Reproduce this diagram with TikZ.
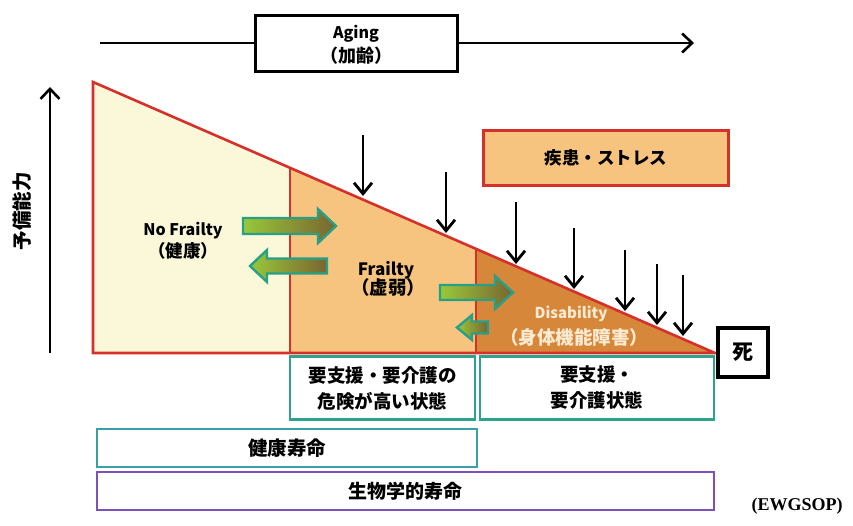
\documentclass[tikz,border=0pt]{standalone}
\usepackage{fontspec}
\setmainfont{Noto Sans CJK JP}
\newfontfamily\serifx{Liberation Serif}
\usetikzlibrary{arrows.meta}
\definecolor{nofr}{HTML}{FBF7D9}
\definecolor{frc}{HTML}{F6C47E}
\definecolor{disc}{HTML}{D7873A}
\definecolor{redl}{HTML}{D6302A}
\definecolor{tealb}{HTML}{2BA38D}
\definecolor{tealc}{HTML}{3A9EA6}
\definecolor{purp}{HTML}{7D52B8}
\definecolor{gA}{HTML}{98C83A}
\definecolor{gB}{HTML}{7A6430}
\definecolor{gline}{HTML}{26A089}
\definecolor{distext}{HTML}{FBEBD3}
\newcommand{\fs}[1]{\bfseries\fontsize{#1}{#1}\selectfont}
\begin{document}
\begin{tikzpicture}[x=1pt,y=-1pt,
  redline/.style={draw=redl,line width=2.6pt,line join=miter},
  blackarr/.style={draw=black,line width=2.6pt,-{Straight Barb[length=10pt,width=19pt,line width=2.6pt]}},
  downarr/.style={draw=black,line width=2.8pt,-{Straight Barb[length=11pt,width=18pt,line width=2.8pt]}},
  lbl/.style={inner sep=0},
  jpbox/.style={line width=2.6pt,fill=white,inner sep=0,align=center,font=\bfseries\fontsize{18.5}{26}\selectfont},
  garrow/.style={left color=gA,right color=gB,draw=gline,line width=2.4pt,line join=miter}
]
\useasboundingbox (0,0) rectangle (853,525);

% Aging arrow
\node[draw=black,line width=3pt,minimum width=202pt,minimum height=56pt,fill=white] (aging) at (356,43) {};
\node[lbl,font=\fs{16}] (agingE) at (356,34) {Aging};
\node[lbl,font=\fs{18}] (agingJ) at (356,56) {（加齢）};
\coordinate (agL) at (100,43);
\coordinate (agR) at (694,43);
\draw[line width=2.6pt] (agL) -- (aging.west);
\draw[blackarr] (aging.east) -- (agR);

% vertical arrow
\coordinate (vB) at (50,353);
\coordinate (vT) at (50,87);
\draw[blackarr] (vB) -- (vT);
\node[rotate=90,font=\fs{19.5},inner sep=0] (reserve) at (22,211) {予備能力};

% triangle regions
\coordinate (A) at (93,82);
\coordinate (B) at (290,167.8);
\coordinate (C) at (476,248.9);
\coordinate (D) at (715,353);
\coordinate (B0) at (290,353);
\coordinate (C0) at (476,353);
\coordinate (A0) at (93,353);
\fill[nofr] (A) -- (B) -- (B0) -- (A0) -- cycle;
\fill[frc] (B) -- (C) -- (C0) -- (B0) -- cycle;
\fill[disc] (C) -- (D) -- (C0) -- cycle;
\draw[redline] (A) -- (D) -- (A0) -- cycle;
\draw[redline] (B) -- (B0);
\draw[redline] (C) -- (C0);

% labels
\node[lbl,font=\fs{16}] (nofrail) at (183,231) {No Frailty};
\node[lbl,font=\fs{17.5}] (nofrailJ) at (183,251) {（健康）};
\node[lbl,font=\fs{17}] (frail) at (386,270) {Frailty};
\node[lbl,font=\fs{18.5}] (frailJ) at (388,287) {（虚弱）};
\node[lbl,font=\fs{15},text=distext] (disab) at (571,314) {Disability};
\node[lbl,font=\fs{18.5},text=distext] (disabJ) at (574,337) {（身体機能障害）};

% green block arrows
\path[garrow] (243,218) -- (318,218) -- (318,209) -- (336,226) -- (318,243) -- (318,234) -- (243,234) -- cycle;
\path[garrow] (327,258.5) -- (267,258.5) -- (267,250) -- (250,266) -- (267,282) -- (267,273.5) -- (327,273.5) -- cycle;
\path[garrow] (440,285) -- (495,285) -- (495,276) -- (513,292.5) -- (495,309) -- (495,300) -- (440,300) -- cycle;
\path[garrow] (488,321.5) -- (472,321.5) -- (472,315) -- (457,327.5) -- (472,340) -- (472,333.5) -- (488,333.5) -- cycle;

% stress box
\node[draw=redl,line width=2.6pt,fill=frc,minimum width=245pt,minimum height=55pt,inner sep=0,font=\fs{17.5}] (stress) at (606,158) {疾患・ストレス};

% down arrows
\foreach \i/\x/\t/\b in {1/363/135/196, 2/446/172/233, 3/516/202/264, 4/574/228/289, 5/625/250/311, 6/657/264/325, 7/683/275/336}{
  \coordinate (dt\i) at (\x,\t);
  \coordinate (db\i) at (\x,\b);
  \draw[downarr] (dt\i) -- (db\i);
}

% death box
\node[draw=black,line width=3.2pt,fill=white,minimum width=50pt,minimum height=49pt,inner sep=0,font=\fs{21}] (death) at (743,352.5) {死};

% lower boxes
\node[jpbox,draw=tealb,minimum width=185pt,minimum height=63pt] (risk) at (382.5,388) {要支援・要介護の\\危険が高い状態};
\node[jpbox,draw=tealb,minimum width=234pt,minimum height=63pt] (care) at (597,388) {要支援・\\要介護状態};
\node[jpbox,draw=tealc,minimum width=380pt,minimum height=38pt,font=\fs{19.5}] (health) at (287,448) {健康寿命};
\node[jpbox,draw=purp,minimum width=617pt,minimum height=38pt,font=\fs{19}] (bio) at (405.5,491) {生物学的寿命};

\node[inner sep=0,font=\serifx\bfseries\fontsize{18}{20}\selectfont] (src) at (797,506) {(EWGSOP)};
\end{tikzpicture}
\end{document}
